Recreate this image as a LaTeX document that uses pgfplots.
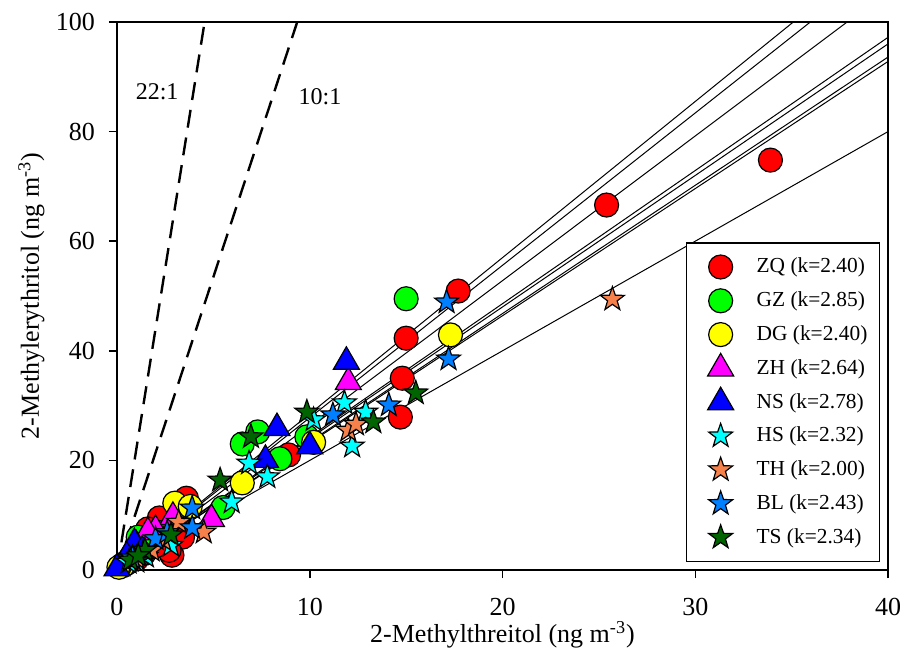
\documentclass[border=0pt]{standalone}
\usepackage{fontspec}
\setmainfont{Liberation Serif}
\usepackage{pgfplots}
\pgfplotsset{compat=1.18}

\definecolor{zqc}{RGB}{255,0,0}
\definecolor{gzc}{RGB}{0,255,0}
\definecolor{dgc}{RGB}{255,255,0}
\definecolor{zhc}{RGB}{255,0,255}
\definecolor{nsc}{RGB}{0,0,255}
\definecolor{hsc}{RGB}{0,255,255}
\definecolor{thc}{RGB}{247,129,74}
\definecolor{blc}{RGB}{0,128,255}
\definecolor{tsc}{RGB}{0,100,0}

% filled five-pointed star
\pgfdeclareplotmark{fstar}{%
  \pgfpathmoveto{\pgfpointpolar{90}{\pgfplotmarksize}}%
  \pgfpathlineto{\pgfpointpolar{126}{0.4\pgfplotmarksize}}%
  \pgfpathlineto{\pgfpointpolar{162}{\pgfplotmarksize}}%
  \pgfpathlineto{\pgfpointpolar{198}{0.4\pgfplotmarksize}}%
  \pgfpathlineto{\pgfpointpolar{234}{\pgfplotmarksize}}%
  \pgfpathlineto{\pgfpointpolar{270}{0.4\pgfplotmarksize}}%
  \pgfpathlineto{\pgfpointpolar{306}{\pgfplotmarksize}}%
  \pgfpathlineto{\pgfpointpolar{342}{0.4\pgfplotmarksize}}%
  \pgfpathlineto{\pgfpointpolar{18}{\pgfplotmarksize}}%
  \pgfpathlineto{\pgfpointpolar{54}{0.4\pgfplotmarksize}}%
  \pgfpathclose
  \pgfusepathqfillstroke}

\pgfplotsset{
  myleg/.style={legend image code/.code={\path[draw=none,fill=none] (-11pt,-8pt) rectangle (9pt,8pt);
      \draw[##1] plot coordinates {(0pt,0pt)};}},
  mk/.style n args={3}{only marks, mark=#1, mark size=#2,
      mark options={draw=black, fill=#3, line width=0.6pt, solid}, myleg},
  fit/.style={black, line width=0.5pt, forget plot},
}

\begin{document}
\begin{tikzpicture}
\begin{axis}[
  at={(0,0)}, anchor=south west,
  scale only axis, width=385.5pt, height=274pt,
  xmin=0, xmax=40, ymin=0, ymax=100,
  xtick={0,10,...,40}, ytick={0,20,...,100},
  tick align=outside, tick pos=left, major tick length=4pt,
  axis line style={line width=0.75pt},
  every tick/.style={black, line width=0.75pt},
  tick label style={font=\fontsize{13}{15}\selectfont},
  xticklabel style={yshift=-6.5pt},
  yticklabel style={xshift=-3.5pt},
  /pgf/number format/assume math mode=true,
  xlabel={2-Methylthreitol (ng m\textsuperscript{-3})},
  ylabel={2-Methylerythritol (ng m\textsuperscript{-3})},
  label style={font=\fontsize{13}{15}\selectfont},
  xlabel style={at={(axis description cs:0.5,-0.1186)}, anchor=center},
  ylabel style={at={(axis description cs:-0.111,0.5)}, anchor=center},
  legend style={at={(0.9896,0.0146)}, anchor=south east, draw=black,
    line width=0.6pt, fill=white, font=\fontsize{10.7}{12}\selectfont,
    inner xsep=6pt, inner ysep=4pt, row sep=0.9pt, column sep=9pt,
    nodes={inner sep=0pt}},
  legend cell align=left,
]

% ZQ
\addplot[mk={*}{6pt}{zqc}] coordinates {
 (33.9,74.8) (25.4,66.6) (17.7,50.9) (15.0,42.3) (14.8,35.0) (14.7,27.9)
 (8.9,21.0) (3.6,13.1) (2.2,9.5) (3.4,6.0) (2.1,6.9) (2.85,2.7) (2.7,3.6)
 (2.0,4.4) (1.4,3.0) (1.0,2.0) (0.5,1.2) (1.6,7.5)};
\addlegendentry{ZQ (k=2.40)}
% GZ
\addplot[mk={*}{6pt}{gzc}] coordinates {
 (15.0,49.5) (7.3,25.2) (6.5,23.0) (9.85,24.3) (8.45,20.3) (5.5,11.4)
 (1.1,6.0) (1.8,6.5) (1.3,4.2) (0.7,2.2) (0.3,1.0)};
\addlegendentry{GZ (k=2.85)}
% DG
\addplot[mk={*}{6pt}{dgc}] coordinates {
 (17.3,42.9) (10.2,23.3) (6.5,15.9) (3.0,12.2) (3.8,11.6) (1.2,3.2)
 (0.3,0.8) (0.1,0.5)};
\addlegendentry{DG (k=2.40)}
% ZH
\addplot[mk={triangle*}{7.5pt}{zhc}] coordinates {
 (12.0,34.3) (4.9,9.3) (2.9,9.7) (2.0,7.3) (1.6,6.9) (1.0,4.5) (0.5,2.0)};
\addlegendentry{ZH (k=2.64)}
% NS
\addplot[mk={triangle*}{7.5pt}{nsc}] coordinates {
 (11.9,38.0) (8.3,25.9) (10.0,22.6) (7.7,20.1) (0.9,4.9) (0.5,2.5)
 (0.0,0.3) (1.3,3.5)};
\addlegendentry{NS (k=2.78)}
% HS
\addplot[mk={fstar}{6.3pt}{hsc}] coordinates {
 (11.8,30.5) (12.9,28.8) (10.2,27.4) (12.2,22.6) (6.85,19.5) (7.8,17.0)
 (5.95,12.4) (1.5,2.5) (1.0,1.6) (0.6,1.4) (2.8,4.5)};
\addlegendentry{HS (k=2.32)}
% TH
\addplot[mk={fstar}{6.3pt}{thc}] coordinates {
 (25.7,49.4) (12.0,25.5) (12.4,26.6) (3.2,8.7) (4.5,6.9) (2.4,5.5)
 (1.8,3.6) (1.0,2.2)};
\addlegendentry{TH (k=2.00)}
% BL
\addplot[mk={fstar}{6.3pt}{blc}] coordinates {
 (17.1,48.9) (17.2,38.5) (14.1,30.1) (11.2,28.3) (3.9,11.3) (3.9,7.7)
 (2.0,5.7) (1.4,3.6) (0.8,2.2) (2.6,6.8)};
\addlegendentry{BL (k=2.43)}
% TS
\addplot[mk={fstar}{6.3pt}{tsc}] coordinates {
 (15.5,32.3) (13.3,27.0) (9.85,28.8) (6.95,24.3) (5.35,16.4) (2.8,6.4)
 (1.45,3.6) (0.7,1.8) (1.1,2.6)};
\addlegendentry{TS (k=2.34)}

% regression lines through the origin, y = k x
\addplot[fit] coordinates {(0,0) (40,96.0)};   % ZQ, DG
\addplot[fit] coordinates {(0,0) (40,114.0)};  % GZ
\addplot[fit] coordinates {(0,0) (40,105.6)};  % ZH
\addplot[fit] coordinates {(0,0) (40,111.2)};  % NS
\addplot[fit] coordinates {(0,0) (40,92.8)};   % HS
\addplot[fit] coordinates {(0,0) (40,80.0)};   % TH
\addplot[fit] coordinates {(0,0) (40,97.2)};   % BL
\addplot[fit] coordinates {(0,0) (40,93.6)};   % TS

% ratio lines
\addplot[black, line width=1.2pt, dash pattern=on 9pt off 5pt, forget plot]
  coordinates {(0,0) (4.545,100)};
\addplot[black, line width=1.2pt, dash pattern=on 9pt off 5pt, forget plot]
  coordinates {(0,0) (9.35,100)};

\node[font=\fontsize{12}{14}\selectfont] at (axis cs:2.08,87.2) {22:1};
\node[font=\fontsize{12}{14}\selectfont] at (axis cs:10.53,86.3) {10:1};
\end{axis}
\pgfresetboundingbox
\useasboundingbox (-58.5pt,-42pt) rectangle (393pt,285pt);
\end{tikzpicture}
\end{document}
